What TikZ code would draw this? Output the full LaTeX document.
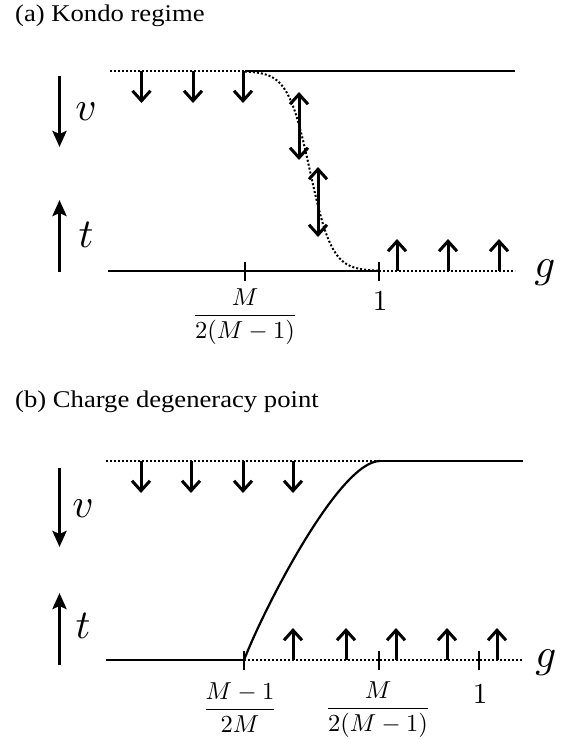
\documentclass[tikz,border=0pt]{standalone}
\usepackage{graphicx}
\usepackage[no-math]{fontspec}
\newfontfamily\titlefont[FakeStretch=1.11]{Liberation Serif}
\usetikzlibrary{arrows.meta}
\newcommand{\bigsym}[2]{\scalebox{#1}{\fontsize{10}{12}\selectfont #2}}
\begin{document}
\begin{tikzpicture}[x=1pt,y=-1pt,
  axis/.style={line width=2.2pt},
  dotaxis/.style={line width=2pt, dotted},
  tickmark/.style={line width=2pt},
  spin/.style={line width=3pt, -{Straight Barb[length=10pt,width=18pt]}},
  dspin/.style={line width=3pt, {Straight Barb[length=10pt,width=18pt]}-{Straight Barb[length=10pt,width=18pt]}},
  bigarrow/.style={line width=3.3pt, -{Stealth[length=16pt,width=14pt,inset=3pt]}},
  ttl/.style={anchor=base west, inner sep=0pt, font=\titlefont\fontsize{24}{28}\selectfont},
  lab/.style={anchor=base, inner sep=0pt},
]
\useasboundingbox (0,0) rectangle (565,739);

% ---------------- panel (a) ----------------
\node[ttl] (ta) at (15,21) {(a) Kondo regime};

\coordinate (aTL) at (110,71);
\coordinate (aTM) at (245,71);
\coordinate (aTR) at (515,71);
\coordinate (aBL) at (108,271);
\coordinate (aBM) at (379,271);
\coordinate (aBR) at (515,271);
\draw[dotaxis] (aTL) -- (aTM);
\draw[axis] (aTM) -- (aTR);
\draw[axis] (aBL) -- (aBM);
\draw[dotaxis] (aBM) -- (aBR);
\draw[tickmark] (245,262) -- (245,281);
\draw[tickmark] (379,262) -- (379,281);

\draw[dotted, line width=2pt] plot[domain=245:379, samples=90] (\x, {171 + 100*tanh((\x-310)/22)});

\foreach \xx in {141.5,193,243} \draw[spin] (\xx,71) -- (\xx,103);
\foreach \xx in {397,448,499} \draw[spin] (\xx,271) -- (\xx,239);
\draw[dspin] (299,92) -- (299,160);
\draw[dspin] (318,167) -- (318,237);

\draw[bigarrow] (59.5,76) -- (59.5,147);
\draw[bigarrow] (59.5,272) -- (59.5,200);
\node[lab] (va) at (86,120) {\bigsym{4.1}{$v$}};
\node[lab] (tla) at (86,247) {\bigsym{4.1}{$t$}};
\node[lab] (ga) at (545,277) {\bigsym{4.1}{$g$}};

\node[lab] (fa) at (245,322) {\bigsym{2.45}{$\displaystyle\frac{M}{2(M-1)}$}};
\node[lab] (oa) at (380,310) {\bigsym{2.9}{$1$}};

% ---------------- panel (b) ----------------
\node[ttl] (tb) at (15,407) {(b) Charge degeneracy point};

\coordinate (bTL) at (106,461);
\coordinate (bTM) at (380,461);
\coordinate (bTR) at (523,461);
\coordinate (bBL) at (106,660);
\coordinate (bBM) at (244,660);
\coordinate (bBR) at (523,660);
\draw[dotaxis] (bTL) -- (bTM);
\draw[axis] (bTM) -- (bTR);
\draw[axis] (bBL) -- (bBM);
\draw[dotaxis] (bBM) -- (bBR);
\draw[tickmark] (244,651) -- (244,670);
\draw[tickmark] (379,651) -- (379,670);
\draw[tickmark] (479,651) -- (479,670);

\draw[axis] (bBM) .. controls (266,604) and (340,461) .. (bTM);

\foreach \xx in {141,191,243,293} \draw[spin] (\xx,461) -- (\xx,493);
\foreach \xx in {293,346,396,447,497} \draw[spin] (\xx,660) -- (\xx,628);

\draw[bigarrow] (59.5,468) -- (59.5,547);
\draw[bigarrow] (59.5,665) -- (59.5,593);
\node[lab] (vb) at (83,517) {\bigsym{4.1}{$v$}};
\node[lab] (tlb) at (83,638) {\bigsym{4.1}{$t$}};
\node[lab] (gb) at (546,667) {\bigsym{4.1}{$g$}};

\node[lab] (fb1) at (240,716) {\bigsym{2.45}{$\displaystyle\frac{M-1}{2M}$}};
\node[lab] (fb2) at (378,715) {\bigsym{2.45}{$\displaystyle\frac{M}{2(M-1)}$}};
\node[lab] (ob) at (480,703) {\bigsym{2.9}{$1$}};
\end{tikzpicture}
\end{document}
